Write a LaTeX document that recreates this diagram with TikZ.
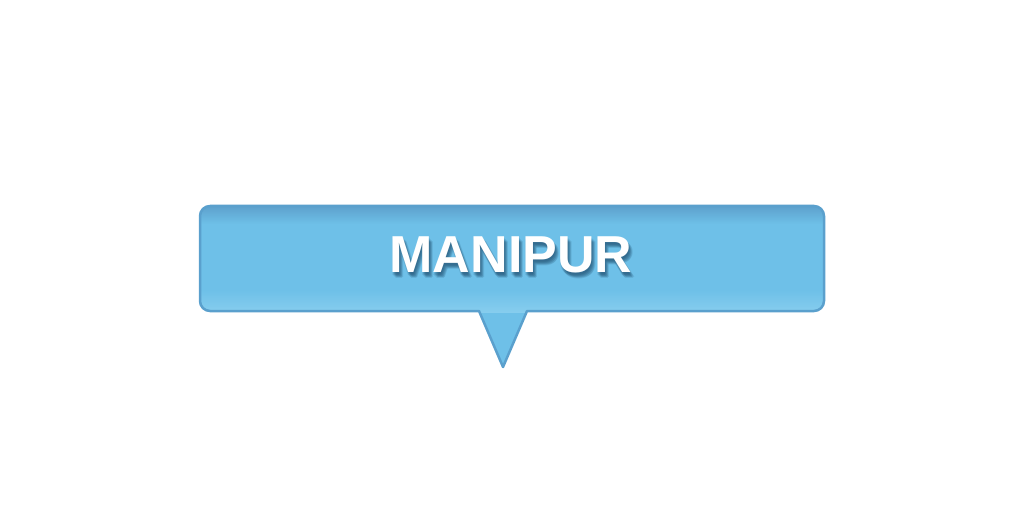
\documentclass[tikz,border=0pt]{standalone}
\usepackage{fontspec}
\setmainfont{Liberation Sans}
\definecolor{calloutfill}{HTML}{6EC0E8}
\definecolor{callouttop}{HTML}{5C9FCB}
\definecolor{calloutbot}{HTML}{86CDEE}
\definecolor{calloutline}{HTML}{5AA0CD}
\definecolor{labelshade}{HTML}{1F4E6E}
\begin{document}
\begin{tikzpicture}[x=1pt,y=1pt,
 bubble/.style={line width=2.5pt,line join=round},
 statetext/.style={font=\fontsize{52}{60}\selectfont\bfseries,inner sep=0pt}]

	\useasboundingbox (0,0) rectangle (1024,512);
	\coordinate (nw) at (200,306);
	\coordinate (ne) at (824,306);
	\coordinate (se) at (824,201);
	\coordinate (sw) at (200,201);
	\coordinate (pr) at (527,201);
	\coordinate (pl) at (479,201);
	\coordinate (tip) at (503,145);
	\begin{scope}
		\path[clip,rounded corners=10pt] (nw) -- (ne) -- (se) [sharp corners] -- (pr)
		 -- (tip) -- (pl) [rounded corners=10pt] -- (sw) -- cycle;
		\fill[calloutfill] (0,0) rectangle (1024,512);
		% inner shading at the top and bottom edges
		\shade[top color=callouttop,bottom color=calloutfill] (200,307) rectangle (824,288);
		\shade[top color=calloutfill,bottom color=calloutbot] (200,222) rectangle (824,200);
	\end{scope}
	\draw[bubble,draw=calloutline,rounded corners=10pt] (nw) -- (ne) -- (se) [sharp corners] -- (pr)
	 -- (tip) -- (pl) [rounded corners=10pt] -- (sw) -- cycle;
	% soft shadow under the label
	\foreach \dx/\dy in {0/-1,1/-2,2/-3,3/-4,-1/-2,2/-5,1/-4,0/-3}
		\node[statetext,text=labelshade,opacity=.14] (shade) at (512+\dx,256+\dy) {MANIPUR};
	\node[statetext,text=white] (label) at (511,257) {MANIPUR};
\end{tikzpicture}
\end{document}
